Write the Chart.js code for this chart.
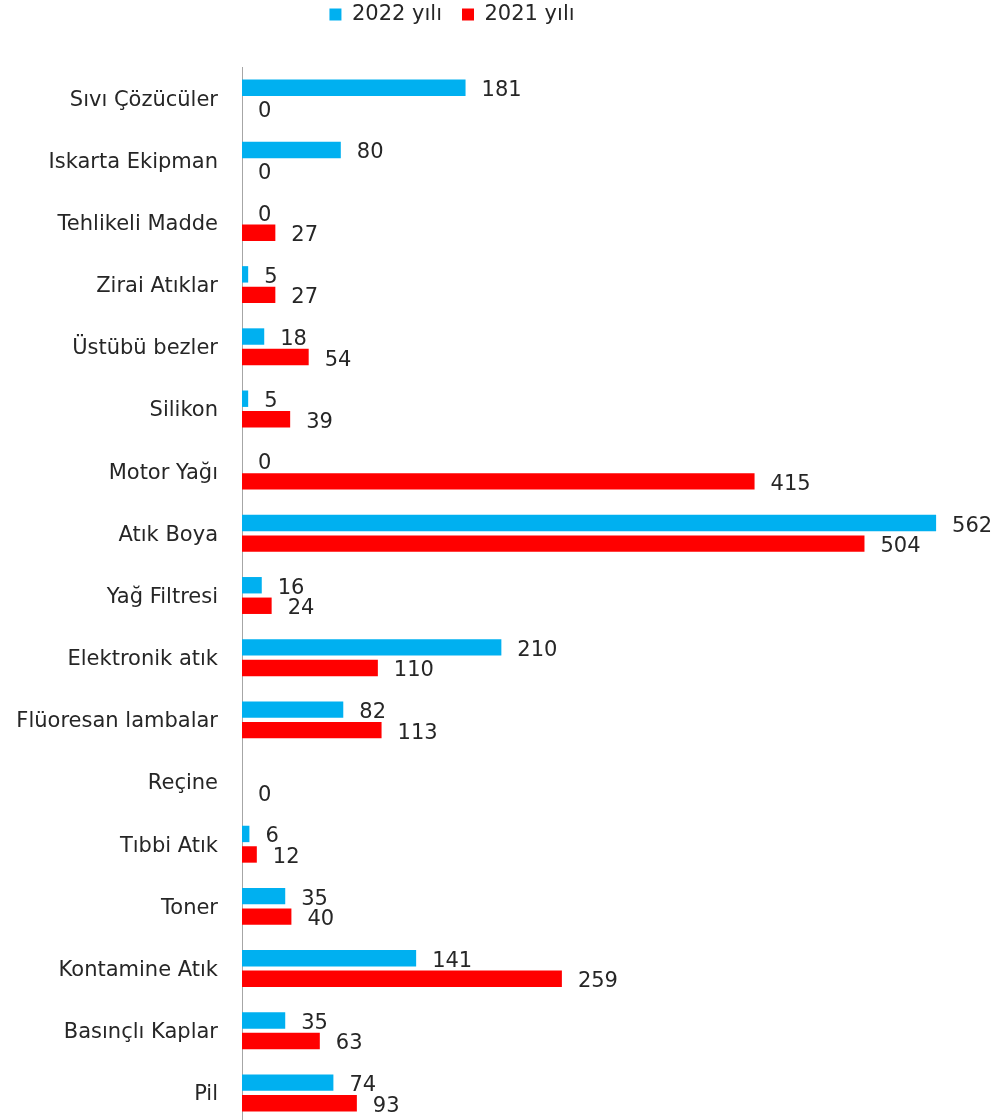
<!DOCTYPE html>
<html>
<head>
<meta charset="utf-8">
<script src="https://cdn.jsdelivr.net/npm/chart.js@4.4.1/dist/chart.umd.min.js"></script>
<style>
html,body{margin:0;padding:0;background:#fff;overflow:hidden;}
canvas{display:block;}
</style>
</head>
<body>
<canvas id="c" width="999" height="1124"></canvas>
<script>
const categories = ["Sıvı Çözücüler","Iskarta Ekipman","Tehlikeli Madde","Zirai Atıklar","Üstübü bezler","Silikon","Motor Yağı","Atık Boya","Yağ Filtresi","Elektronik atık","Flüoresan lambalar","Reçine","Tıbbi Atık","Toner","Kontamine Atık","Basınçlı Kaplar","Pil"];
const series2022 = [181,80,0,5,18,5,0,562,16,210,82,null,6,35,141,35,74];
const series2021 = [0,0,27,27,54,39,415,504,24,110,113,0,12,40,259,63,93];
const seriesNames = ["2022 yılı","2021 yılı"];

const FONT = "'DejaVu Sans', sans-serif";
const FS = 21;
const TEXT = "#262626";

const valueLabels = {
  id:'valueLabels',
  afterDatasetsDraw(chart){
    const ctx = chart.ctx;
    ctx.save();
    ctx.font = FS + "px " + FONT;
    ctx.fillStyle = TEXT;
    ctx.textAlign = 'left';
    ctx.textBaseline = 'middle';
    chart.data.datasets.forEach((ds,i)=>{
      const meta = chart.getDatasetMeta(i);
      meta.data.forEach((el,j)=>{
        const v = ds.data[j];
        if (v === null || v === undefined) return;
        ctx.fillText(String(v), el.x + 16, el.y + 3);
      });
    });
    ctx.restore();
  }
};

const legendFit = {
  id:'legendFit',
  beforeInit(chart){
    const orig = chart.legend.fit;
    chart.legend.fit = function(){ orig.call(this); this.height = 83; };
  }
};

new Chart(document.getElementById('c'), {
  type:'bar',
  data:{
    labels:categories,
    datasets:[
      {label:seriesNames[0], data:series2022, backgroundColor:'#00B0F0', clip:false, categoryPercentage:0.66, barPercentage:0.8},
      {label:seriesNames[1], data:series2021, backgroundColor:'#FF0000', clip:false, categoryPercentage:0.66, barPercentage:0.8}
    ]
  },
  options:{
    indexAxis:'y',
    responsive:false,
    animation:false,
    layout:{padding:{top:-16,right:95,bottom:0,left:0}},
    plugins:{
      legend:{
        position:'top',
        labels:{boxWidth:12,boxHeight:12,padding:20,color:TEXT,font:{family:FONT,size:FS}}
      },
      tooltip:{enabled:false}
    },
    scales:{
      x:{
        min:0,
        max:536,
        display:false
      },
      y:{
        afterFit(scale){ scale.width = 242; scale.paddingTop = 0; scale.paddingBottom = 0; },
        grid:{display:false},
        border:{display:true,color:'#A6A6A6',width:1},
        ticks:{color:TEXT,padding:16,labelOffset:2,font:{family:FONT,size:FS}}
      }
    }
  },
  plugins:[valueLabels, legendFit]
});
</script>
</body>
</html>
